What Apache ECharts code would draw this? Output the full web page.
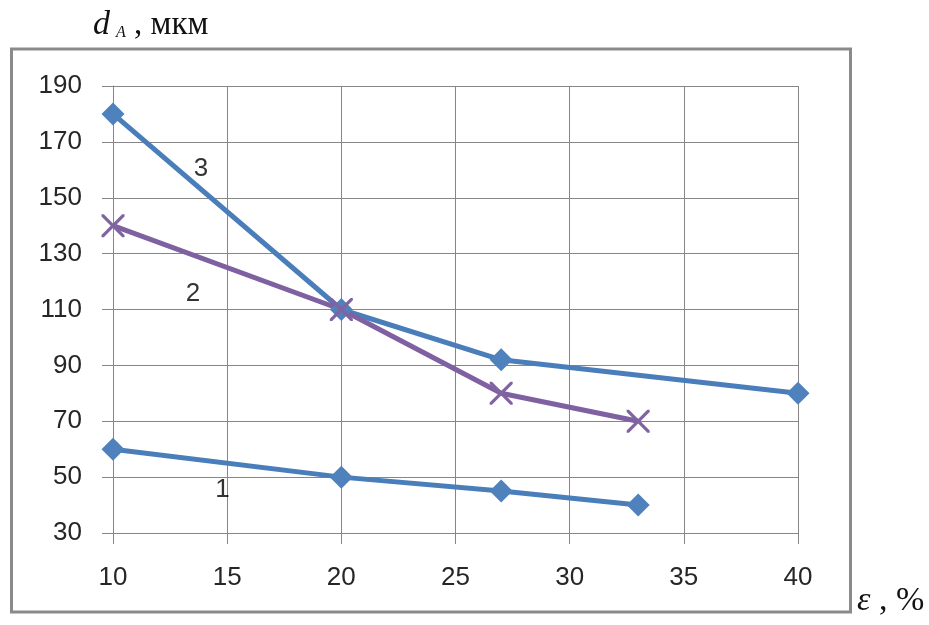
<!DOCTYPE html>
<html><head><meta charset="utf-8">
<script src="https://cdn.jsdelivr.net/npm/echarts@6/dist/echarts.min.js"></script>
<style>html,body{margin:0;padding:0;background:#fff}#c{width:929px;height:625px}</style>
</head><body><div id="c"></div>
<script>
const xTicks = [10, 15, 20, 25, 30, 35, 40];
const yTicks = [30, 50, 70, 90, 110, 130, 150, 170, 190];
const series1 = [[10, 60], [20, 50], [27, 45], [33, 40]];
const series2 = [[10, 140], [20, 110], [27, 80], [33, 70]];
const series3 = [[10, 180], [20, 110], [27, 92], [40, 80]];
const curveLabels = [[14.8, 45.5, '1'], [13.5, 115.5, '2'], [13.85, 160.5, '3']];

const xPath = 'path://M0,0 L2,0 L10,8 L18,0 L20,0 L20,2 L12,10 L20,18 L20,20 L18,20 L10,12 L2,20 L0,20 L0,18 L8,10 L0,2 Z';
const blue = '#4A7EBB', blueFill = '#4F81BD', purple = '#7F60A1';
const tickFont = {fontFamily: 'Liberation Sans', fontSize: 26, color: '#262626'};

const chart = echarts.init(document.getElementById('c'));
chart.setOption({
  animation: false,
  backgroundColor: '#fff',
  grid: {left: 113, right: 131, top: 86, bottom: 92},
  xAxis: {
    type: 'value', min: xTicks[0], max: xTicks[xTicks.length - 1], interval: 5,
    axisLine: {show: true, lineStyle: {color: '#868686', width: 1}},
    axisTick: {show: true, length: 11, lineStyle: {color: '#868686'}},
    splitLine: {show: true, lineStyle: {color: '#868686', width: 1}},
    axisLabel: Object.assign({margin: 32}, tickFont)
  },
  yAxis: {
    type: 'value', min: yTicks[0], max: yTicks[yTicks.length - 1], interval: 20,
    axisLine: {show: true, lineStyle: {color: '#868686', width: 1}},
    axisTick: {show: true, length: 11, lineStyle: {color: '#868686'}},
    splitLine: {show: true, lineStyle: {color: '#868686', width: 1}},
    axisLabel: Object.assign({margin: 31}, tickFont)
  },
  graphic: [
    {type: 'rect', shape: {x: 11.5, y: 49, width: 839, height: 563},
     style: {fill: 'none', stroke: '#8A8A8A', lineWidth: 3}, z: -1},
    {type: 'text', left: 93, top: 8, style: {
      text: '{i|d}{s|A}{n| , мкм}',
      rich: {
        i: {fontFamily: 'Liberation Serif', fontStyle: 'italic', fontSize: 34, fill: '#111'},
        s: {fontFamily: 'Liberation Serif', fontStyle: 'italic', fontSize: 16, fill: '#111', padding: [16, 0, 0, 6]},
        n: {fontFamily: 'Liberation Serif', fontSize: 33, fill: '#111'}
      }}},
    {type: 'text', left: 857, top: 584, style: {
      text: '{i|ε}{n| , %}',
      rich: {
        i: {fontFamily: 'Liberation Serif', fontStyle: 'italic', fontSize: 34, fill: '#111'},
        n: {fontFamily: 'Liberation Serif', fontSize: 34, fill: '#111'}
      }}}
  ],
  series: [
    {type: 'line', data: series1, symbol: 'diamond', symbolSize: 23,
     lineStyle: {color: blue, width: 5}, itemStyle: {color: blueFill}},
    {type: 'line', data: series3, symbol: 'diamond', symbolSize: 23,
     lineStyle: {color: blue, width: 5}, itemStyle: {color: blueFill}},
    {type: 'line', data: series2, symbol: xPath, symbolSize: 23,
     lineStyle: {color: purple, width: 5}, itemStyle: {color: '#8064A2'}},
    {type: 'scatter', symbolSize: 0, data: curveLabels.map(d => ({value: [d[0], d[1]], name: d[2]})),
     label: {show: true, position: 'inside', formatter: p => p.name,
       fontFamily: 'Liberation Sans', fontSize: 26, color: '#000'}, z: 5}
  ]
});
</script></body></html>
